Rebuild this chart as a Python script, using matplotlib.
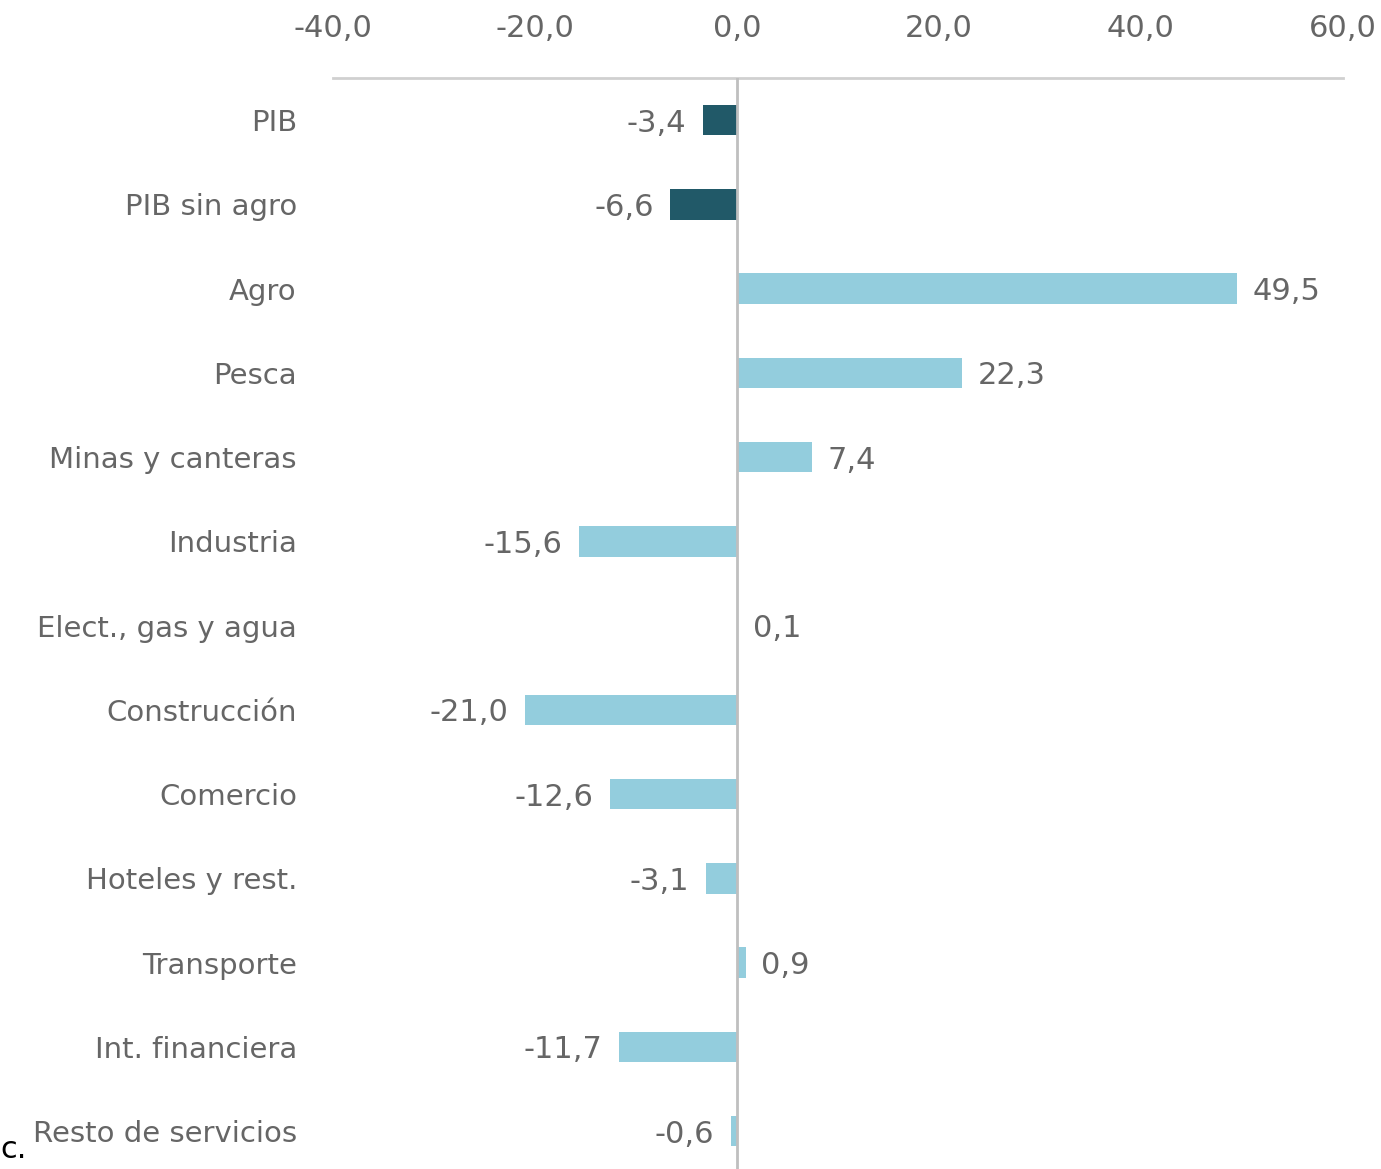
import numpy as np
import matplotlib
matplotlib.use("Agg")
import matplotlib.pyplot as plt

categories = ["PIB", "PIB sin agro", "Agro", "Pesca", "Minas y canteras", "Industria",
              "Elect., gas y agua", "Construcción", "Comercio", "Hoteles y rest.",
              "Transporte", "Int. financiera", "Resto de servicios"]
values = [-3.4, -6.6, 49.5, 22.3, 7.4, -15.6, 0.1, -21.0, -12.6, -3.1, 0.9, -11.7, -0.6]
dark = [True, True] + [False] * 11
xticks = [-40, -20, 0, 20, 40, 60]

DARK = "#215968"
LIGHT = "#93cddd"
GRAY = "#666666"

plt.rcParams["font.family"] = ["DejaVu Sans"]

fig = plt.figure(figsize=(13.81, 11.69), dpi=100)
ax = fig.add_axes([333 / 1381, 0, (1343 - 333) / 1381, 1 - 78 / 1169])

y = np.arange(len(categories))
colors = [DARK if d else LIGHT for d in dark]
ax.barh(y, values, height=0.36, color=colors, zorder=2)

for yi, v in zip(y, values):
    lbl = f"{v:.1f}".replace(".", ",")
    if v >= 0:
        ax.annotate(lbl, (v, yi), xytext=(11, 0), textcoords="offset points",
                    ha="left", va="center_baseline", fontsize=22, color=GRAY)
    else:
        ax.annotate(lbl, (v, yi), xytext=(-12, 0), textcoords="offset points",
                    ha="right", va="center_baseline", fontsize=22, color=GRAY)

ax.axvline(0, color="#bfbfbf", lw=2, zorder=3)

ax.set_xlim(-40, 60)
ax.set_ylim(12.45, -0.5)
ax.set_xticks(xticks)
ax.set_xticklabels([f"{t:.1f}".replace(".", ",") for t in xticks])
ax.xaxis.tick_top()
ax.tick_params(axis="x", length=0, pad=25, labelsize=22, labelcolor=GRAY)
ax.set_yticks(y)
ax.set_yticklabels(categories)
ax.tick_params(axis="y", length=0, pad=26, labelsize=21, labelcolor=GRAY)

for s in ["right", "bottom", "left"]:
    ax.spines[s].set_visible(False)
ax.spines["top"].set_color("#d0d0d0")
ax.spines["top"].set_linewidth(2)

fig.text(0.0, 0.004, "c.", fontsize=22, color="black", ha="left", va="bottom")

fig.savefig("out.png", dpi=100)
